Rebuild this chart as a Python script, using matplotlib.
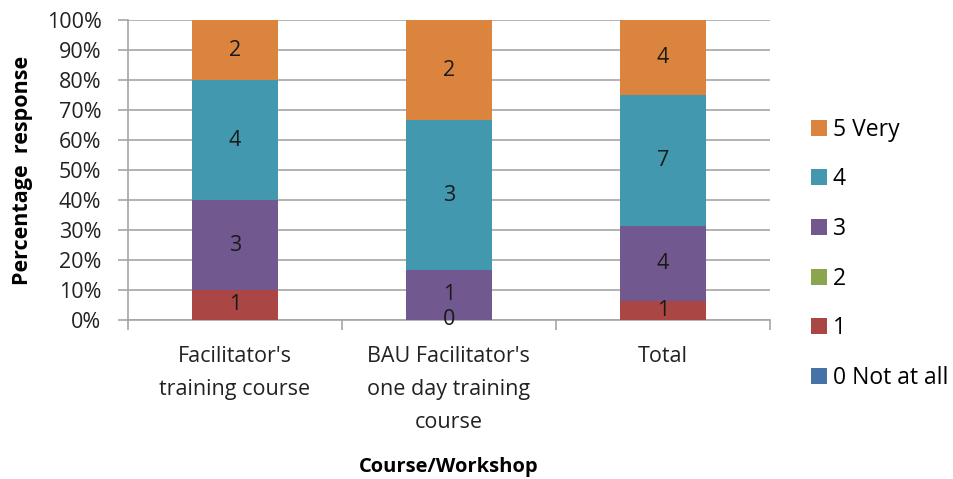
import numpy as np
import matplotlib
matplotlib.use("Agg")
import matplotlib.pyplot as plt
from matplotlib.patches import Patch

plt.rcParams['font.family'] = ['Open Sans', 'DejaVu Sans']

categories = ["Facilitator's\ntraining course",
              "BAU Facilitator's\none day training\ncourse",
              "Total"]
series_names = ["0 Not at all", "1", "2", "3", "4", "5 Very"]
# response counts per category (NaN = no responses recorded)
s0 = [np.nan, np.nan, np.nan]
s1 = [1, 0, 1]
s2 = [np.nan, np.nan, np.nan]
s3 = [3, 1, 4]
s4 = [4, 3, 7]
s5 = [2, 2, 4]
colors = ["#4572A7", "#AA4643", "#89A54E", "#71588F", "#4198AF", "#DB843D"]
yticks = [0, 10, 20, 30, 40, 50, 60, 70, 80, 90, 100]

counts = np.array([s0, s1, s2, s3, s4, s5], dtype=float)
totals = np.nansum(counts, axis=0)
pct = np.nan_to_num(counts) / totals * 100

fig = plt.figure(figsize=(9.54, 4.79), dpi=100)
ax = fig.add_axes([0.134, 0.332, 0.673, 0.626])

FS = 15.5
x = np.arange(len(categories))
bottom = np.zeros(len(categories))
for i, name in enumerate(series_names):
    ax.bar(x, pct[i], 0.4, bottom=bottom, color=colors[i], zorder=3)
    for j in range(len(categories)):
        if not np.isnan(counts[i, j]):
            ax.text(x[j], bottom[j] + pct[i, j] / 2, f"{int(counts[i, j])}",
                    ha='center', va='center', fontsize=FS, color='#1a1a1a', zorder=4)
    bottom += pct[i]

ax.set_xlim(-0.5, len(categories) - 0.5)
ax.set_ylim(0, 100)
ax.set_yticks(yticks)
ax.set_yticklabels([f"{t}%" for t in yticks], fontsize=FS, color='#222222')
ax.yaxis.grid(True, color='#a6a6a6', linewidth=1.2, zorder=0)
ax.tick_params(axis='y', length=7, color='#a6a6a6', width=1.2, pad=12)

ax.set_xticks(x)
ax.set_xticklabels(categories, fontsize=FS, color='#222222', linespacing=1.74)
ax.tick_params(axis='x', length=0, pad=19)
ax.set_xticks(np.arange(-0.5, len(categories), 1.0), minor=True)
ax.tick_params(axis='x', which='minor', length=7, color='#a6a6a6', width=1.2)

for side in ['top', 'right']:
    ax.spines[side].set_visible(False)
for side in ['left', 'bottom']:
    ax.spines[side].set_color('#a6a6a6')
    ax.spines[side].set_linewidth(1.2)

ax.set_ylabel("Percentage  response", fontsize=15.5, fontweight='bold', labelpad=10)
ax.set_xlabel("Course/Workshop", fontsize=14.5, fontweight='bold', labelpad=17)

handles = [Patch(facecolor=colors[i], label=series_names[i]) for i in range(len(series_names))][::-1]
fig.legend(handles=handles, loc='center left', bbox_to_anchor=(0.850, 0.47),
           frameon=False, fontsize=16.5, handlelength=0.7, handleheight=0.7,
           handletextpad=0.25, labelspacing=1.12, borderaxespad=0, borderpad=0)

fig.savefig("out.png", dpi=100)
